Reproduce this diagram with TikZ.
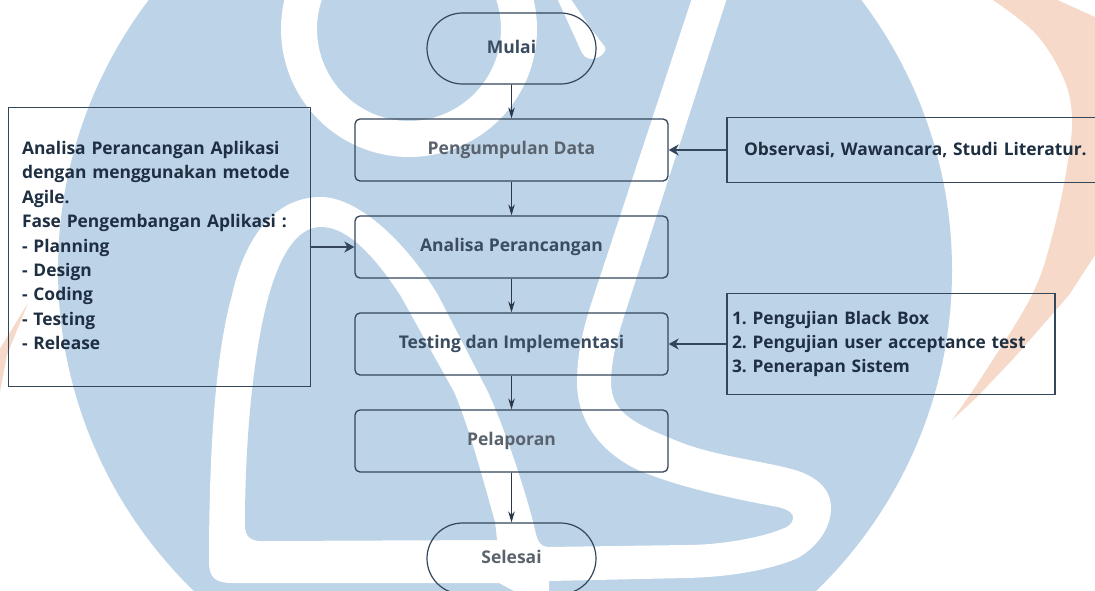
\documentclass[tikz,border=0pt]{standalone}
\usepackage{fontspec}
\setmainfont{Open Sans}
\usetikzlibrary{arrows.meta,shapes.misc}
\definecolor{wmblue}{HTML}{BDD3E8}
\definecolor{wmorange}{HTML}{F6D9C8}
\definecolor{edgecol}{HTML}{34465A}
\definecolor{sidetext}{HTML}{1F2F42}
\definecolor{midtext}{HTML}{3A4C60}
\definecolor{greytext}{HTML}{5A636D}
\frenchspacing
\tikzset{
  flowbox/.style={draw=edgecol,line width=1.3pt,rounded corners=5pt,minimum width=313pt,minimum height=62pt,inner sep=0pt,font=\fontsize{17.5}{20}\selectfont\bfseries,text=midtext},
  terminal/.style={draw=edgecol,line width=1.2pt,rounded rectangle,minimum width=169pt,minimum height=71pt,inner sep=0pt,font=\fontsize{17.5}{20}\selectfont\bfseries,text=midtext},
  sidebox/.style={draw=edgecol,line width=1.4pt,align=left,inner ysep=0pt,font=\fontsize{17.4}{24.4}\selectfont\bfseries,text=sidetext},
  flowarrow/.style={draw=edgecol!80!black,line width=0.9pt,-{Stealth[length=11pt,width=6.5pt]}},
  sidearrow/.style={draw=edgecol,line width=1.5pt,-{Stealth[length=10pt,width=11pt,inset=3pt]}}
}
\begin{document}
\begin{tikzpicture}[x=1pt,y=-1pt]
\path[use as bounding box,clip] (0,0) rectangle (1095,590);
\fill[white] (0,0) rectangle (1095,590);
% watermark: orange crescent and tip
\fill[wmorange] plot[smooth,tension=.6] coordinates {(990,-2)(1035,33)(1063,77)(1072,117)(1067,167)(1053,233)(1032,295)(983,375)(952,420)}
  -- (976,398) -- (1014,358) -- (1069,295) -- (1097,252) -- (1097,18) -- (1053,-2) -- cycle;
\fill[wmorange] (-2,352) -- (28,303) -- (7,355) -- (-2,402) -- cycle;
% watermark: blue disc
\fill[wmblue] (505,270) circle (447pt);
% watermark: white logo strokes
\draw[white,line width=36pt] (409,29) circle (110pt);
\fill[white] (557,-2) -- (582,53) .. controls (585,59) and (592,60) .. (596,58) .. controls (603,56) and (607,50) .. (605,47) -- (592,30) -- (570,-2) -- cycle;
\fill[white]
  (438,295) .. controls (402,236) and (355,197) .. (321,197)
  .. controls (270,197) and (243,245) .. (232,295)
  .. controls (218,345) and (209,430) .. (209,562)
  .. controls (209,578) and (216,583) .. (232,583)
  -- (499,583) -- (516,592) -- (549,592) -- (549,581) -- (686,578)
  .. controls (730,577) and (770,570) .. (798,558)
  .. controls (815,548) and (831,530) .. (831,508)
  .. controls (831,488) and (815,476) .. (795,470)
  .. controls (760,460) and (710,456) .. (670,438)
  .. controls (630,422) and (611,410) .. (611,382)
  .. controls (611,355) and (622,322) .. (631,295)
  -- (727,-2) -- (692,-2) -- (594,295)
  .. controls (585,322) and (577,350) .. (577,382)
  .. controls (577,420) and (600,452) .. (638,470)
  .. controls (680,488) and (740,500) .. (778,507)
  .. controls (790,510) and (794,514) .. (793,519)
  .. controls (792,524) and (788,527) .. (782,529)
  .. controls (760,538) and (720,545) .. (686,545)
  -- (548,547) .. controls (540,546) and (537,542) .. (534,525)
  .. controls (522,480) and (505,430) .. (488,392) -- cycle;
\fill[wmblue]
  (400,295) .. controls (378,262) and (350,227) .. (321,227)
  .. controls (295,227) and (279,260) .. (269,295)
  .. controls (255,345) and (245,430) .. (245,525)
  .. controls (245,536) and (250,541) .. (262,541)
  -- (497,540) -- (495,522) .. controls (483,480) and (470,430) .. (454,392) -- cycle;
% flow nodes
\node[terminal] (mulai) at (511.5,48.5) {Mulai\vphantom{g}};
\node[flowbox,text=greytext] (data) at (511.5,150) {Pengumpulan Data};
\node[flowbox] (analisa) at (511.5,247) {Analisa Perancangan};
\node[flowbox] (testing) at (511.5,344) {Testing dan Implementasi};
\node[flowbox,text=greytext] (lapor) at (511.5,441) {Pelaporan};
\node[terminal,text=greytext] (selesai) at (511.5,558.5) {Selesai\vphantom{g}};
% side boxes
\node[sidebox,text width=275pt,inner xsep=13.5pt,minimum height=279pt] (kiri) at (159.5,247)
  {Analisa Perancangan Aplikasi\\dengan menggunakan metode\\Agile.\\Fase Pengembangan Aplikasi :\\- Planning\\- Design\\- Coding\\- Testing\\- Release\rule[-3pt]{0pt}{3pt}};
\node[sidebox,text width=359pt,inner xsep=17pt,minimum height=65pt] (obs) at (923.5,150)
  {Observasi, Wawancara, Studi Literatur.};
\node[sidebox,text width=318pt,inner xsep=5pt,minimum height=101pt,font=\fontsize{17.3}{24.4}\selectfont\bfseries] (uji) at (891,344)
  {1. Pengujian Black Box\\2. Pengujian user acceptance test\\3. Penerapan Sistem};
% connectors
\draw[flowarrow] (mulai) -- (data);
\draw[flowarrow] (data) -- (analisa);
\draw[flowarrow] (analisa) -- (testing);
\draw[flowarrow] (testing) -- (lapor);
\draw[flowarrow] (lapor) -- (selesai);
\draw[sidearrow] (obs) -- (data);
\draw[sidearrow] (kiri) -- (analisa);
\draw[sidearrow] (uji) -- (testing);
\end{tikzpicture}
\end{document}
